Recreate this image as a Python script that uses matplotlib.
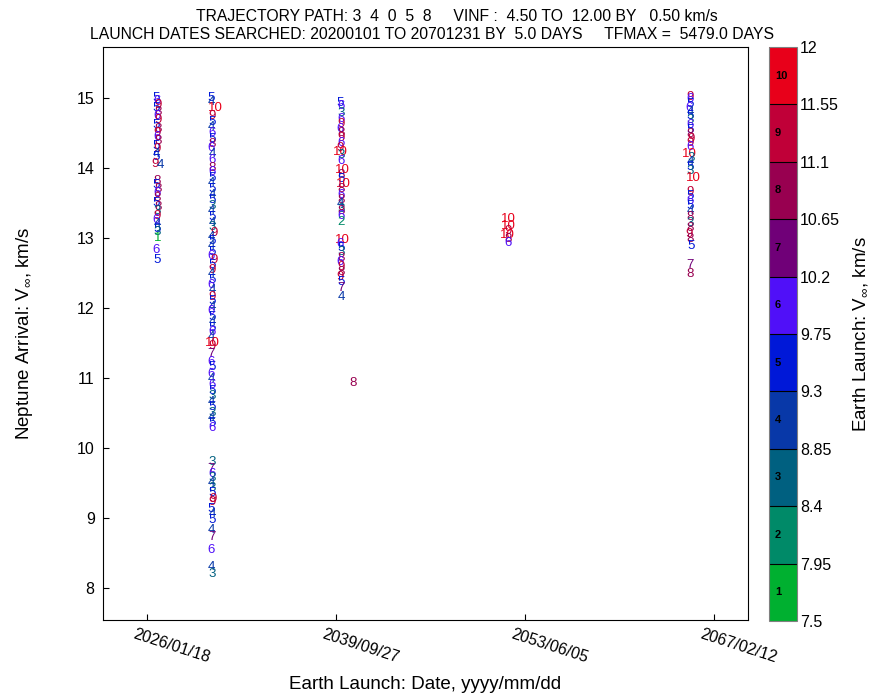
import numpy as np
import matplotlib
matplotlib.use("Agg")
import matplotlib.pyplot as plt
from matplotlib.colors import ListedColormap, BoundaryNorm
from matplotlib.cm import ScalarMappable
from matplotlib.transforms import ScaledTranslation

plt.rcParams['font.family'] = ['Liberation Sans', 'DejaVu Sans']
plt.rcParams['mathtext.fontset'] = 'custom'
plt.rcParams['mathtext.rm'] = 'Liberation Sans'
plt.rcParams['mathtext.it'] = 'Liberation Sans'

# launch day (days after 2020/01/01), Neptune arrival vinf (km/s), Earth launch vinf bin (1..10)
col1_day = [2460, 2475, 2505, 2450, 2495, 2470, 2510, 2455, 2500, 2480, 2465, 2490, 2455, 2485, 2470, 2460,
            2434, 2566,
            2470, 2450, 2490, 2465, 2480, 2455, 2495, 2470, 2485, 2455, 2475, 2465, 2480, 2490, 2455, 2475]
col1_vinf = [15.00, 14.96, 14.90, 14.86, 14.80, 14.74, 14.68, 14.62, 14.56, 14.50, 14.44, 14.38, 14.32, 14.27, 14.20, 14.16,
             14.06, 14.04,
             13.82, 13.76, 13.70, 13.64, 13.57, 13.50, 13.44, 13.38, 13.32, 13.26, 13.20, 13.13, 13.08, 13.00, 12.83, 12.69]
col1_bin = [5, 6, 9, 5, 8, 6, 9, 5, 8, 9, 6, 8, 5, 9, 4, 5,
            9, 4,
            8, 5, 8, 6, 8, 5, 8, 3, 9, 6, 4, 5, 3, 1, 6, 5]

col2_day = [3915, 3925, 4010, 3920, 3930, 3915, 3935, 3925, 3940, 3915, 3930, 3920, 3940, 3920, 3930, 3915,
            3925, 3935, 3920, 3930, 3915, 3925, 3935, 3920, 3980, 3920, 3935, 3920, 3930, 3915, 3980, 3920,
            3935, 3920, 3930, 3915, 3930, 3940, 3920, 3930, 3915, 3925, 3935, 3920, 3930, 3915, 3945, 3935,
            3900, 3915, 3930, 3915, 3925, 3935, 3920, 3930, 3915, 3925, 3935, 3920, 3930, 3935,
            3930, 3905, 3920, 3935, 3920, 3930, 3920, 3945, 3935, 3915, 3930, 3920, 3915, 3940, 3915, 3925, 3930]
col2_vinf = [15.00, 14.94, 14.86, 14.74, 14.66, 14.58, 14.50, 14.42, 14.34, 14.28, 14.20, 14.12, 14.00, 13.94, 13.86, 13.78,
             13.70, 13.62, 13.54, 13.46, 13.38, 13.30, 13.22, 13.15, 13.07, 13.02, 12.95, 12.88, 12.80, 12.74, 12.68, 12.62,
             12.54, 12.48, 12.40, 12.33, 12.26, 12.16, 12.10, 12.02, 11.95, 11.87, 11.80, 11.72, 11.65, 11.58, 11.50, 11.45,
             11.34, 11.23, 11.15, 11.05, 10.98, 10.90, 10.82, 10.74, 10.66, 10.58, 10.50, 10.42, 10.36, 10.29,
             9.80, 9.70, 9.62, 9.57, 9.50, 9.43, 9.35, 9.27, 9.22, 9.12, 9.05, 8.97, 8.82, 8.73, 8.54, 8.30, 8.20]
col2_bin = [5, 4, 10, 9, 5, 4, 6, 5, 8, 6, 4, 6, 8, 6, 5, 4,
            5, 4, 5, 3, 4, 5, 4, 3, 9, 4, 5, 4, 5, 6, 9, 5,
            9, 4, 5, 6, 4, 9, 5, 4, 6, 5, 4, 5, 6, 4, 10, 9,
            7, 6, 5, 6, 4, 6, 5, 3, 4, 5, 3, 4, 5, 6,
            3, 7, 6, 3, 4, 3, 5, 9, 9, 5, 4, 5, 4, 7, 6, 4, 3]

col3_day = [7330, 7345, 7340, 7335, 7350, 7330, 7345, 7355, 7335, 7320, 7316, 7350, 7340, 7369, 7345, 7335,
            7408, 7350, 7335, 7345, 7330, 7340, 7350, 7340, 7330,
            7370, 7330, 7345, 7335, 7340, 7330, 7345, 7335, 7320, 7340, 7330, 7345,
            7660]
col3_vinf = [14.93, 14.88, 14.79, 14.70, 14.63, 14.56, 14.50, 14.43, 14.36, 14.28, 14.23, 14.18, 14.10, 13.97, 13.90, 13.84,
             13.77, 13.70, 13.62, 13.55, 13.48, 13.42, 13.38, 13.32, 13.23,
             12.97, 12.92, 12.86, 12.80, 12.72, 12.66, 12.58, 12.52, 12.44, 12.37, 12.28, 12.16,
             10.93]
col3_bin = [5, 6, 3, 6, 9, 6, 8, 9, 6, 9, 10, 3, 6, 10, 8, 5,
            10, 8, 6, 8, 4, 3, 8, 6, 2,
            10, 6, 5, 3, 8, 6, 9, 8, 9, 5, 7, 4,
            8]

col4_day = [11761, 11770, 11765, 11750, 11760, 11755]
col4_vinf = [13.27, 13.17, 13.10, 13.04, 12.98, 12.93]
col4_bin = [10, 10, 9, 10, 8, 6]

col5_day = [16590, 16570, 16580, 16565, 16585, 16575, 16590, 16570, 16585, 16580, 16595, 16570, 16575, 16550, 16600, 16585,
            16575, 16590, 16680, 16590, 16580, 16590, 16575, 16585, 16570, 16580, 16575, 16565, 16570, 16595, 16585, 16585]
col5_vinf = [15.02, 14.98, 14.92, 14.86, 14.80, 14.74, 14.68, 14.62, 14.55, 14.48, 14.42, 14.36, 14.30, 14.20, 14.15, 14.08,
             14.02, 13.96, 13.86, 13.66, 13.60, 13.53, 13.46, 13.38, 13.30, 13.22, 13.14, 13.06, 12.98, 12.88, 12.61, 12.48]
col5_bin = [9, 6, 5, 6, 4, 5, 3, 6, 5, 8, 9, 9, 6, 10, 3, 4,
            5, 3, 10, 9, 5, 6, 5, 4, 8, 3, 8, 9, 8, 5, 7, 8]

launch_day = col1_day + col2_day + col3_day + col4_day + col5_day
arrival_vinf = col1_vinf + col2_vinf + col3_vinf + col4_vinf + col5_vinf
launch_bin = col1_bin + col2_bin + col3_bin + col4_bin + col5_bin

bin_colors = ['#00b030', '#008a68', '#006080', '#0838a8', '#0018d8',
              '#5010f8', '#700078', '#980050', '#c00038', '#e8001a']
vinf_edges = [7.5, 7.95, 8.4, 8.85, 9.3, 9.75, 10.2, 10.65, 11.1, 11.55, 12.0]
edge_labels = ['7.5', '7.95', '8.4', '8.85', '9.3', '9.75', '10.2', '10.65', '11.1', '11.55', '12']

tick_dates = ['2026-01-18', '2039-09-27', '2053-06-05', '2067-02-12']

epoch = np.datetime64('2020-01-01')

fig = plt.figure(figsize=(8.81, 6.96), dpi=100)
ax = fig.add_axes([0.1169, 0.1092, 0.7321, 0.8233])

for d, v, b in zip(launch_day, arrival_vinf, launch_bin):
    ax.text(d, v, str(b), color=bin_colors[b - 1], fontsize=9.5,
            ha='center', va='center')

ax.set_xlim(1045, 18111)
ax.set_ylim(7.54, 15.73)

ticks = [(np.datetime64(t) - epoch).astype(int) for t in tick_dates]
ax.set_xticks(ticks)
ax.set_xticklabels([t.replace('-', '/') for t in tick_dates], rotation=-18,
                   ha='center', va='top')
ax.set_yticks(range(8, 16))
ax.tick_params(axis='both', direction='in', length=4, labelsize=11.5)
ax.tick_params(axis='y', pad=6)
ax.tick_params(axis='x', pad=5)
for lab in ax.get_xticklabels():
    lab.set_transform(lab.get_transform() + ScaledTranslation(0.25, 0, fig.dpi_scale_trans))

ax.set_xlabel('Earth Launch: Date, yyyy/mm/dd', fontsize=13.5, labelpad=7)
ax.set_ylabel(r'Neptune Arrival: V$_\infty$, km/s', fontsize=13.5, labelpad=30)

fig.text(0.519, 0.976, 'TRAJECTORY PATH: 3  4  0  5  8     VINF :  4.50 TO  12.00 BY   0.50 km/s',
         ha='center', va='center', fontsize=11.3)
fig.text(0.490, 0.951, 'LAUNCH DATES SEARCHED: 20200101 TO 20701231 BY  5.0 DAYS     TFMAX =  5479.0 DAYS',
         ha='center', va='center', fontsize=11.3)

# colour bar
cmap = ListedColormap(bin_colors)
norm = BoundaryNorm(vinf_edges, cmap.N)
cax = fig.add_axes([0.873, 0.1078, 0.032, 0.8247])
cb = fig.colorbar(ScalarMappable(norm=norm, cmap=cmap), cax=cax, drawedges=True)
cb.outline.set_edgecolor('#808080')
cb.dividers.set_color('black')
cb.dividers.set_linewidth(0.8)
cb.set_ticks(vinf_edges)
cb.set_ticklabels(edge_labels)
cax.tick_params(length=0, labelsize=11.5, pad=2)
for i in range(10):
    mid = (vinf_edges[i] + vinf_edges[i + 1]) / 2
    cax.text(0.2, mid, str(i + 1), transform=cax.get_yaxis_transform(),
             fontsize=8, fontweight='bold', ha='left', va='center')
cb.set_label(r'Earth Launch: V$_\infty$, km/s', fontsize=13.5, labelpad=8)

fig.savefig('out.png', dpi=100)
